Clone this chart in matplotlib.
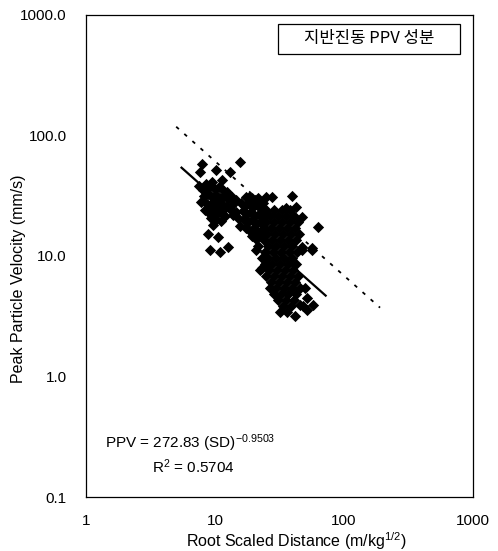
import numpy as np
import matplotlib
matplotlib.use("Agg")
import matplotlib.pyplot as plt
from matplotlib.patches import Rectangle
from matplotlib.ticker import FixedLocator, FuncFormatter, NullLocator

plt.rcParams['font.family'] = ['Liberation Sans', 'DejaVu Sans']
plt.rcParams['mathtext.fontset'] = 'custom'
plt.rcParams['mathtext.rm'] = 'Liberation Sans'
plt.rcParams['mathtext.it'] = 'Liberation Sans:italic'

# scaled distance (m/kg^1/2) and PPV (mm/s)
sd = [7.93, 15.6, 7.65, 10.2, 13.1, 8.52, 11.3, 9.48, 39.5, 35.5, 42.5, 47.3, 62.9,
      24.8, 27.7, 17.4, 19.4, 21.5, 9.6, 8.8, 10.5, 9.2, 10.9, 12.6, 22.3, 26.7, 49.9,
      51.7, 56.5, 47.3, 31.9, 41.7, 51.7, 36.2, 45.6, 57.5, 23.1, 13.6, 14.6,
      8.1, 8.7, 9.3, 10.0, 10.7, 11.5, 12.4, 8.2, 8.8, 9.5, 10.2, 10.9, 11.8, 12.6, 13.6,
      14.6, 7.8, 8.5, 9.2, 9.8, 10.6, 11.3, 12.2, 13.1, 8.4, 9.0, 9.7, 10.4, 11.1, 12.0,
      9.3, 10.2, 11.1, 8.5, 13.8, 7.5,
      15.9, 17.1, 18.3, 19.7, 21.2, 22.7, 16.5, 17.7, 19.0, 20.4, 21.9, 16.8, 18.0, 19.4,
      20.8, 22.3, 17.4, 18.7, 20.1, 21.5, 23.1, 19.4, 20.8, 22.3, 15.6, 15.1, 24.0, 23.5,
      18.3, 20.4,
      24.8, 28.7, 33.1, 38.1, 23.5, 26.7, 30.8, 35.5, 41.0, 24.8, 28.7, 33.1, 38.1, 44.0,
      24.0, 27.2, 31.3, 36.2, 41.7, 25.3, 29.2, 33.7, 38.8, 44.8, 24.0, 27.7, 31.9, 36.8,
      42.5, 25.8, 29.7, 34.3, 39.5, 24.4, 28.2, 32.5, 37.5, 43.2, 25.8, 29.7, 34.3, 39.5,
      24.4, 27.7, 31.9, 36.8, 42.5, 26.2, 30.2, 34.9, 40.2, 24.8, 28.7, 33.1, 38.1, 44.0,
      27.2, 31.3, 36.2, 41.7, 29.7, 34.3, 39.5, 45.6, 28.7, 32.5, 36.8, 42.5, 30.8, 35.5,
      41.0, 33.7, 38.8, 48.1, 20.8, 23.1, 21.5, 47.5, 56.5]
ppv = [58.0, 60.3, 49.8, 51.7, 49.8, 39.6, 42.7, 41.1, 31.5, 25.0, 25.5, 21.1, 17.4,
       30.9, 30.9, 30.9, 30.3, 30.3, 18.0, 15.2, 14.4, 11.2, 10.8, 11.9, 7.66, 5.43, 5.43,
       4.48, 11.2, 11.2, 3.43, 3.2, 3.56, 3.43, 3.9, 3.9, 7.95, 26.5, 23.2,
       35.3, 36.7, 38.1, 36.0, 37.4, 35.3, 34.0, 31.5, 32.7, 30.9, 32.1, 30.3, 31.5, 29.7,
       30.9, 29.2, 28.1, 27.6, 26.5, 28.1, 26.0, 27.0, 25.5, 24.6, 24.1, 22.7, 24.1, 22.3,
       23.2, 21.5, 20.7, 19.9, 19.5, 34.0, 21.9, 38.1,
       27.6, 26.0, 27.0, 25.5, 26.5, 25.0, 23.6, 22.3, 23.2, 21.5, 22.3, 20.3, 19.2, 19.9,
       18.4, 19.2, 17.1, 16.1, 17.1, 15.8, 16.4, 14.7, 13.9, 14.7, 17.7, 20.7, 22.7, 27.6,
       30.9, 29.2,
       24.1, 24.1, 24.1, 24.1, 21.5, 21.5, 21.5, 21.5, 21.5, 19.2, 19.2, 19.2, 19.2, 19.2,
       17.1, 17.1, 17.1, 17.1, 17.1, 15.2, 15.2, 15.2, 15.2, 15.2, 13.6, 13.6, 13.6, 13.6,
       13.6, 12.1, 12.1, 12.1, 12.1, 10.8, 10.8, 10.8, 10.8, 10.8, 9.63, 9.63, 9.63, 9.63,
       8.58, 8.58, 8.58, 8.58, 8.58, 7.66, 7.66, 7.66, 7.66, 6.82, 6.82, 6.82, 6.82, 6.82,
       6.08, 6.08, 6.08, 6.08, 5.43, 5.43, 5.43, 5.43, 4.84, 4.84, 4.84, 4.84, 4.31, 4.31,
       4.31, 3.85, 3.85, 3.85, 11.2, 9.63, 12.1, 11.9, 11.7]

# regression PPV = K * SD^b
fit_k = 272.83
fit_b = -0.9503
fit_range = [5.5, 72.0]
upper_k = 545.0
upper_range = [5.0, 190.0]

x_ticks = [1, 10, 100, 1000]
y_ticks = [0.1, 1, 10, 100, 1000]

fig = plt.figure(figsize=(4.98, 5.51), dpi=100)
ax = fig.add_axes([0.1727, 0.098, 0.7773, 0.875])

ax.scatter(sd, ppv, marker='D', s=33, color='black', linewidths=0, zorder=3)

xf = np.logspace(np.log10(fit_range[0]), np.log10(fit_range[1]), 50)
ax.plot(xf, fit_k * xf ** fit_b, color='black', lw=1.6, zorder=4)
xu = np.logspace(np.log10(upper_range[0]), np.log10(upper_range[1]), 50)
ax.plot(xu, upper_k * xu ** fit_b, color='black', lw=1.3, linestyle=(0, (2, 4)), zorder=4)

ax.set_xscale('log')
ax.set_yscale('log')
ax.set_xlim(1, 1000)
ax.set_ylim(0.1, 1000)
ax.xaxis.set_major_locator(FixedLocator(x_ticks))
ax.yaxis.set_major_locator(FixedLocator(y_ticks))
ax.xaxis.set_minor_locator(NullLocator())
ax.yaxis.set_minor_locator(NullLocator())
ax.xaxis.set_major_formatter(FuncFormatter(lambda v, p: f"{v:g}"))
ax.yaxis.set_major_formatter(FuncFormatter(lambda v, p: f"{v:.1f}"))
ax.tick_params(axis='both', length=0, labelsize=11)
ax.tick_params(axis='y', pad=14)
ax.tick_params(axis='x', pad=12)
for s in ax.spines.values():
    s.set_linewidth(0.9)

ax.set_xlabel('Root Scaled Distance (m/kg$^{1/2}$)', fontsize=11.5)
ax.xaxis.label.set_va('baseline')
ax.xaxis.set_label_coords(0.543, -0.104)
ax.set_ylabel('Peak Particle Velocity (mm/s)', fontsize=11.5)
ax.yaxis.set_label_coords(-0.155, 0.452)

# label box in the upper right
ax.add_patch(Rectangle((0.496, 0.919), 0.47, 0.062, transform=ax.transAxes,
                       fc='white', ec='black', lw=0.9, zorder=5))
ax.text(0.731, 0.950, '지반진동 PPV 성분', transform=ax.transAxes, ha='center', va='center',
        fontsize=12, family=['Noto Sans CJK KR', 'Liberation Sans'], zorder=6)

ax.text(0.05, 0.112, 'PPV = 272.83 (SD)$^{\\mathrm{-0.9503}}$', transform=ax.transAxes,
        ha='left', va='center', fontsize=11)
ax.text(0.171, 0.062, 'R$^{2}$ = 0.5704', transform=ax.transAxes,
        ha='left', va='center', fontsize=11)

fig.savefig('out.png', dpi=100)
